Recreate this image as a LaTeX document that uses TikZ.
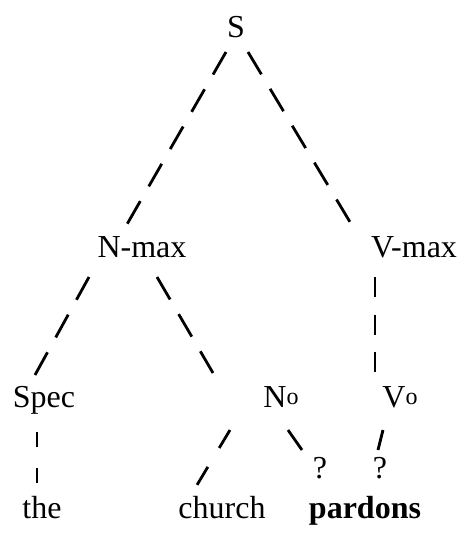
\documentclass[tikz,border=0pt]{standalone}
\usepackage{fontspec}
\setmainfont{Liberation Serif}
\usetikzlibrary{calc}
\newcommand{\zro}{\raisebox{2.5pt}{\fontsize{24}{24}\selectfont o}}
\tikzset{cat/.style={anchor=base,inner sep=0pt,font=\fontsize{32}{36}\selectfont},
  branch/.style={line width=2.8pt,dash pattern=on 26pt off 17pt}}
\begin{document}
\begin{tikzpicture}[x=1pt,y=-1pt]
\useasboundingbox (0,0) rectangle (466,533);
\node[cat] (s) at (236,37) {S};
\node[cat] (nmax) at (142,257) {N-max};
\node[cat] (vmax) at (414,257) {V-max};
\node[cat] (spec) at (44,407) {Spec};
\node[cat] (n0) at (281,407) {N\zro};
\node[cat] (v0) at (400,407) {V\zro};
\node[cat] (q1) at (320,478) {?};
\node[cat] (q2) at (380,478) {?};
\node[cat] (the) at (42,518) {the};
\node[cat] (church) at (222,518) {church};
\node[cat] (pardons) at (365,518) {\bfseries pardons};
% branches
\draw[branch] ($(s.base)+(-10,15)$) -- ($(nmax.base)+(-16,-31)$);
\draw[branch] ($(s.base)+(12,15)$) -- ($(vmax.base)+(-64,-35)$);
\draw[branch] ($(nmax.base)+(-53,20)$) -- ($(spec.base)+(-9,-32)$);
\draw[branch] ($(nmax.base)+(15,20)$) -- ($(n0.base)+(-68,-34)$);
\draw[branch,dash pattern=on 20pt off 17.5pt] ($(vmax.base)+(-39,20)$) -- ($(v0.base)+(-25,-35)$);
\draw[branch,dash pattern=on 15pt off 21pt] ($(spec.base)+(-7,25)$) -- ($(the.base)+(-5,-35)$);
\draw[branch,dash pattern=on 21pt off 22pt] ($(n0.base)+(-51,23)$) -- ($(church.base)+(-25,-33)$);
\draw[branch] ($(n0.base)+(7,23)$) -- ($(q1.base)+(-18,-28)$);
\draw[branch] ($(v0.base)+(-17,23)$) -- ($(q2.base)+(-2,-28)$);
\end{tikzpicture}
\end{document}
